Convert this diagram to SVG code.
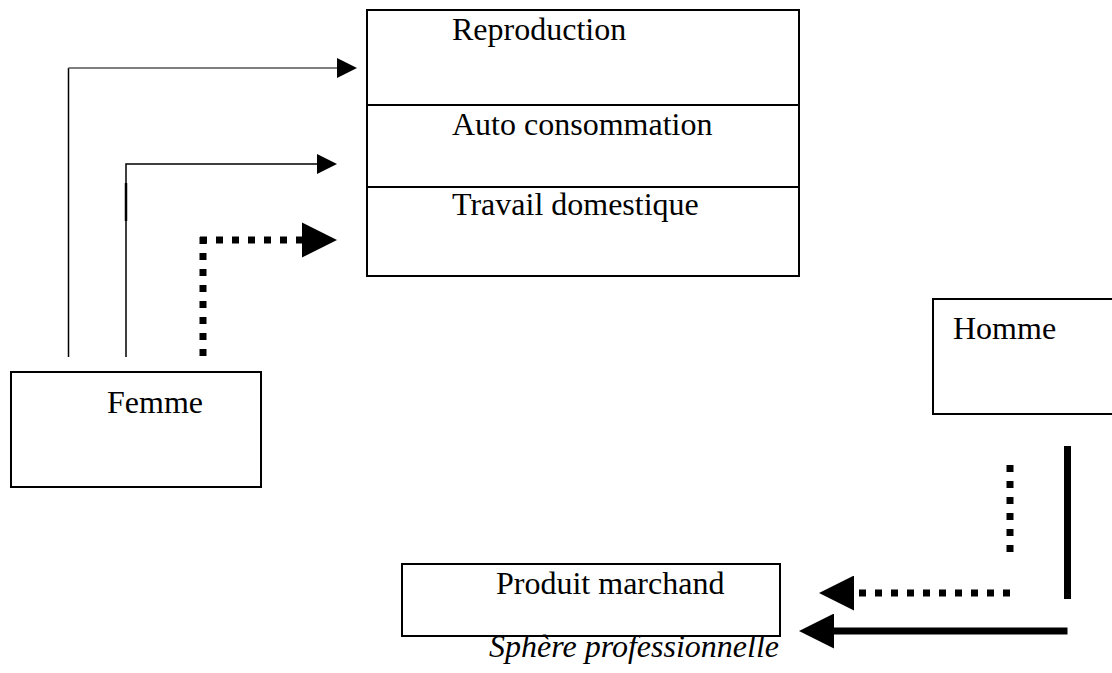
<svg xmlns="http://www.w3.org/2000/svg" width="1112" height="673" viewBox="0 0 1112 673">
  <style>
    .box { fill: #ffffff; stroke: #000000; stroke-width: 2; }
    .lbl { font-family: "Liberation Serif", "Times New Roman", serif; font-size: 32px; fill: #000000; }
    .ital { font-style: italic; }
    .thin { fill: none; stroke: #000000; stroke-width: 1.5; }
    .thin-gray { fill: none; stroke: #555555; stroke-width: 1.5; }
    .dotted { fill: none; stroke: #000000; stroke-width: 7; stroke-dasharray: 7 9; stroke-linecap: butt; }
    .thick { fill: none; stroke: #000000; stroke-width: 7; stroke-linecap: butt; }
  </style>
  <defs>
    <marker id="arrowSmall" markerUnits="userSpaceOnUse" viewBox="0 0 20 20" refX="0" refY="10" markerWidth="20" markerHeight="20" orient="auto">
      <path d="M0,0 L20,10 L0,20 Z" fill="#000000"/>
    </marker>
    <marker id="arrowLarge" markerUnits="userSpaceOnUse" viewBox="0 0 35 35" refX="0" refY="17.5" markerWidth="35" markerHeight="35" orient="auto">
      <path d="M0,0 L35,17.5 L0,35 Z" fill="#000000"/>
    </marker>
  </defs>

  <g id="sphere-domestique">
    <rect class="box" x="367" y="10" width="432" height="266"/>
    <line x1="367" y1="105" x2="799" y2="105" stroke="#000" stroke-width="2"/>
    <line x1="367" y1="187" x2="799" y2="187" stroke="#000" stroke-width="2"/>
  </g>
  <g id="reproduction">
    <text class="lbl" x="452" y="40">Reproduction</text>
  </g>
  <g id="auto-consommation">
    <text class="lbl" x="452" y="135">Auto consommation</text>
  </g>
  <g id="travail-domestique">
    <text class="lbl" x="452" y="215">Travail domestique</text>
  </g>

  <g id="femme">
    <rect class="box" x="11" y="372" width="250" height="115"/>
    <text class="lbl" x="107" y="413">Femme</text>
  </g>

  <g id="homme">
    <rect class="box" x="933" y="299" width="190" height="115"/>
    <text class="lbl" x="953" y="339">Homme</text>
  </g>

  <g id="produit-marchand">
    <rect class="box" x="402" y="564" width="378" height="72"/>
    <text class="lbl" x="496" y="594">Produit marchand</text>
  </g>

  <g id="sphere-professionnelle">
    <text class="lbl ital" x="489" y="657">Sphère professionnelle</text>
  </g>

  <g id="connectors">
    <!-- Femme -> Reproduction -->
    <path class="thin" d="M68.5,357 V68"/>
    <path class="thin-gray" d="M68.5,68 H337" marker-end="url(#arrowSmall)"/>
    <!-- Femme -> Auto consommation -->
    <path class="thin" d="M126,357 V164 H317" marker-end="url(#arrowSmall)"/>
    <line x1="126" y1="183" x2="126" y2="221" stroke="#000" stroke-width="2.5"/>
    <!-- Femme -> Travail domestique (dotted) -->
    <line class="dotted" x1="203" y1="356" x2="203" y2="237"/>
    <line class="dotted" x1="200" y1="240" x2="302" y2="240" style="stroke-dasharray: 7 9"/>
    <path d="M302,222.5 L337,240 L302,257.5 Z" fill="#000"/>
    <!-- Homme -> Produit marchand (dotted) -->
    <line class="dotted" x1="1010" y1="465" x2="1010" y2="553"/>
    <line class="dotted" x1="1010" y1="593" x2="854" y2="593" marker-end="url(#arrowLarge)"/>
    <!-- Homme -> Produit marchand (solid thick) -->
    <line class="thick" x1="1067.5" y1="446" x2="1067.5" y2="599"/>
    <line class="thick" x1="1067.5" y1="631" x2="834" y2="631" marker-end="url(#arrowLarge)"/>
  </g>
</svg>
